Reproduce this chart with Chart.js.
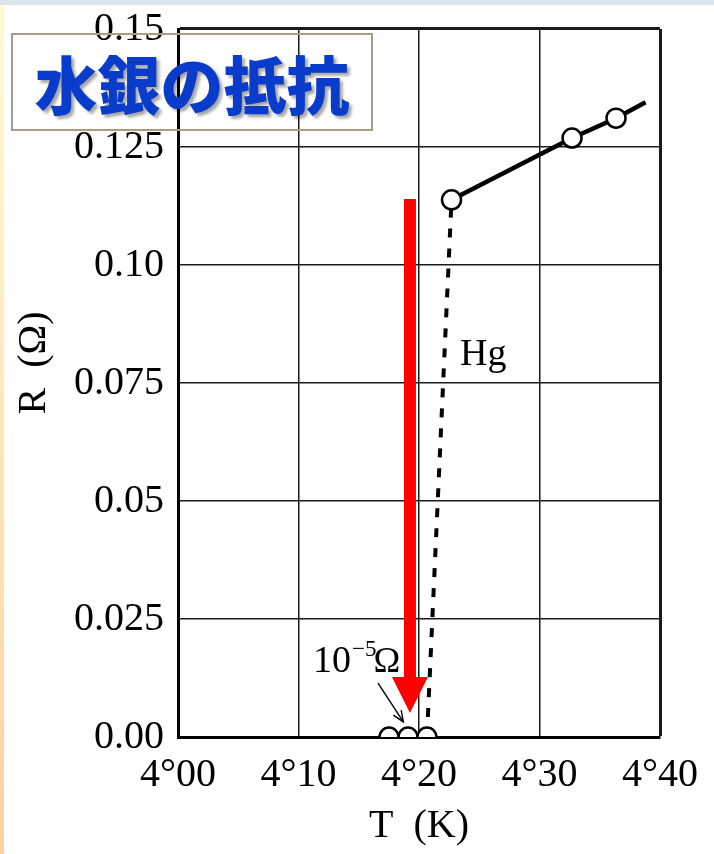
<!DOCTYPE html>
<html>
<head>
<meta charset="utf-8">
<script src="https://cdn.jsdelivr.net/npm/chart.js@4.4.1/dist/chart.umd.min.js"></script>
<style>
html,body{margin:0;padding:0;background:#fff;}
#wrap{position:relative;width:714px;height:854px;overflow:hidden;background:#fff;}
#topbar{position:absolute;left:0;top:0;width:714px;height:5px;background:#dce5eb;}
#leftbar{position:absolute;left:0;top:5px;width:4px;height:849px;background:linear-gradient(#fffbd2,#fdd2a0);}
#c{position:absolute;left:0;top:0;}
#title{position:absolute;left:11px;top:33px;width:362px;height:98px;box-sizing:border-box;border:2px solid #a99b86;
  display:flex;align-items:center;justify-content:center;z-index:2;}
#title span{font-family:"Noto Sans CJK JP","Noto Sans CJK SC",sans-serif;font-weight:900;font-size:63px;color:#0a3ccc;
  letter-spacing:0px;text-shadow:3px 3px 3px rgba(0,0,0,0.35);line-height:1;margin-top:-2px;}
</style>
</head>
<body>
<div id="wrap">
  <div id="topbar"></div>
  <div id="leftbar"></div>
  <canvas id="c" width="714" height="854"></canvas>
  <div id="title"><span>水銀の抵抗</span></div>
</div>
<script>
// ---- data (T in K, R in ohm) ----
const xTickLabels = ['4°00', '4°10', '4°20', '4°30', '4°40'];
const yTickLabels = ['0.00', '0.025', '0.05', '0.075', '0.10', '0.125', '0.15'];
const solidT = [4.227, 4.327, 4.3635, 4.388];
const solidR = [0.1138, 0.1269, 0.1311, 0.1345];
const dashT = [4.2066, 4.227];
const dashR = [0.0, 0.1138];
const pointT = [4.1751, 4.1909, 4.2066, 4.227, 4.327, 4.3635];
const pointR = [0.0, 0.0, 0.0, 0.1138, 0.1269, 0.1311];
const redArrowT = [4.1925, 4.1925];
const redArrowR = [0.114, 0.0051];
const noteArrowT = [4.166, 4.187];
const noteArrowR = [0.0114, 0.0032];
const hgLabelPos = [4.234, 0.0788];
const noteLabelPos = [4.112, 0.0138];

const toXY = (xs, ys) => xs.map((v, i) => ({x: v, y: ys[i]}));

const annot = {
  id: 'annot',
  afterDatasetsDraw(chart) {
    const {ctx, scales: {x, y}} = chart;
    ctx.save();
    // small black arrow
    const sx0 = x.getPixelForValue(noteArrowT[0]), sy0 = y.getPixelForValue(noteArrowR[0]);
    const sx1 = x.getPixelForValue(noteArrowT[1]), sy1 = y.getPixelForValue(noteArrowR[1]);
    ctx.strokeStyle = '#000'; ctx.lineWidth = 1.4;
    ctx.beginPath(); ctx.moveTo(sx0, sy0); ctx.lineTo(sx1, sy1); ctx.stroke();
    const ang = Math.atan2(sy1 - sy0, sx1 - sx0);
    ctx.beginPath();
    ctx.moveTo(sx1 - 12 * Math.cos(ang - 0.4), sy1 - 12 * Math.sin(ang - 0.4));
    ctx.lineTo(sx1, sy1);
    ctx.lineTo(sx1 - 12 * Math.cos(ang + 0.4), sy1 - 12 * Math.sin(ang + 0.4));
    ctx.stroke();
    // texts
    ctx.fillStyle = '#000';
    ctx.textBaseline = 'alphabetic';
    ctx.textAlign = 'left';
    ctx.font = '38px "Liberation Serif", serif';
    ctx.fillText('Hg', x.getPixelForValue(hgLabelPos[0]), y.getPixelForValue(hgLabelPos[1]));
    let tx = x.getPixelForValue(noteLabelPos[0]);
    const ty = y.getPixelForValue(noteLabelPos[1]);
    ctx.font = '38px "Liberation Serif", serif';
    ctx.fillText('10', tx, ty);
    tx += ctx.measureText('10').width + 1;
    ctx.font = '23px "Liberation Serif", serif';
    ctx.fillText('−5', tx, ty - 16);
    tx += ctx.measureText('−5').width - 3;
    ctx.font = '36px "Liberation Serif", serif';
    ctx.fillText('Ω', tx, ty);
    // red arrow
    const ax = x.getPixelForValue(redArrowT[0]);
    const ay0 = y.getPixelForValue(redArrowR[0]);
    const ay1 = y.getPixelForValue(redArrowR[1]);
    const sw = 6, hw = 18, hl = 36;
    ctx.fillStyle = '#ff0000';
    ctx.beginPath();
    ctx.moveTo(ax - sw, ay0);
    ctx.lineTo(ax + sw, ay0);
    ctx.lineTo(ax + sw, ay1 - hl);
    ctx.lineTo(ax + hw, ay1 - hl);
    ctx.lineTo(ax, ay1);
    ctx.lineTo(ax - hw, ay1 - hl);
    ctx.lineTo(ax - sw, ay1 - hl);
    ctx.closePath();
    ctx.fill();
    ctx.restore();
  }
};

const tickFont = {family: '"Liberation Serif", serif', size: 40, lineHeight: 1.2};
const titleFont = {family: '"Liberation Serif", serif', size: 40, lineHeight: 1.2};

new Chart(document.getElementById('c'), {
  type: 'scatter',
  data: {
    datasets: [
      {
        label: 'points',
        data: toXY(pointT, pointR),
        showLine: false,
        pointRadius: 9.5,
        pointHoverRadius: 9.5,
        pointBackgroundColor: '#fff',
        pointBorderColor: '#000',
        pointBorderWidth: 2.5
      },
      {
        label: 'normal',
        data: toXY(solidT, solidR),
        showLine: true,
        borderColor: '#000',
        borderWidth: 4.5,
        pointRadius: 0,
        fill: false
      },
      {
        label: 'transition',
        data: toXY(dashT, dashR),
        showLine: true,
        borderColor: '#000',
        borderWidth: 4,
        borderDash: [9, 11],
        pointRadius: 0,
        fill: false
      }
    ]
  },
  options: {
    responsive: false,
    animation: false,
    events: [],
    layout: {padding: {left: 0, top: 29, right: 54, bottom: 0}},
    plugins: {legend: {display: false}, tooltip: {enabled: false}},
    scales: {
      x: {
        type: 'linear',
        min: 4.0, max: 4.4,
        afterFit(s) { s.height = 117; s.paddingLeft = 0; s.paddingRight = 0; },
        afterBuildTicks(s) { s.ticks = xTickLabels.map((_, i) => ({value: 4.0 + i * 0.1})); },
        ticks: {
          autoSkip: false, maxRotation: 0, padding: 14, color: '#000', font: tickFont,
          callback: (v, i) => xTickLabels[i]
        },
        grid: {
          drawTicks: false, color: '#1a1a1a',
          lineWidth: c => (c.index === xTickLabels.length - 1 ? 3 : 1.5)
        },
        border: {color: '#000', width: 3},
        title: {display: true, text: 'T\u2002(K)', color: '#000', font: titleFont, padding: {top: 0, bottom: 4}}
      },
      y: {
        type: 'linear',
        min: 0, max: 0.15,
        afterFit(s) { s.width = 178; s.paddingTop = 0; s.paddingBottom = 0; },
        afterBuildTicks(s) { s.ticks = yTickLabels.map((_, i) => ({value: i * 0.025})); },
        ticks: {
          autoSkip: false, padding: 14, color: '#000', font: tickFont,
          callback: (v, i) => yTickLabels[i]
        },
        grid: {
          drawTicks: false, color: '#1a1a1a',
          lineWidth: c => (c.index === yTickLabels.length - 1 ? 3 : 1.5)
        },
        border: {color: '#000', width: 3},
        title: {display: true, text: '\u2002\u2002R\u2002(Ω)', color: '#000', font: titleFont, padding: {top: 10, bottom: 0}}
      }
    }
  },
  plugins: [annot]
});
</script>
</body>
</html>
